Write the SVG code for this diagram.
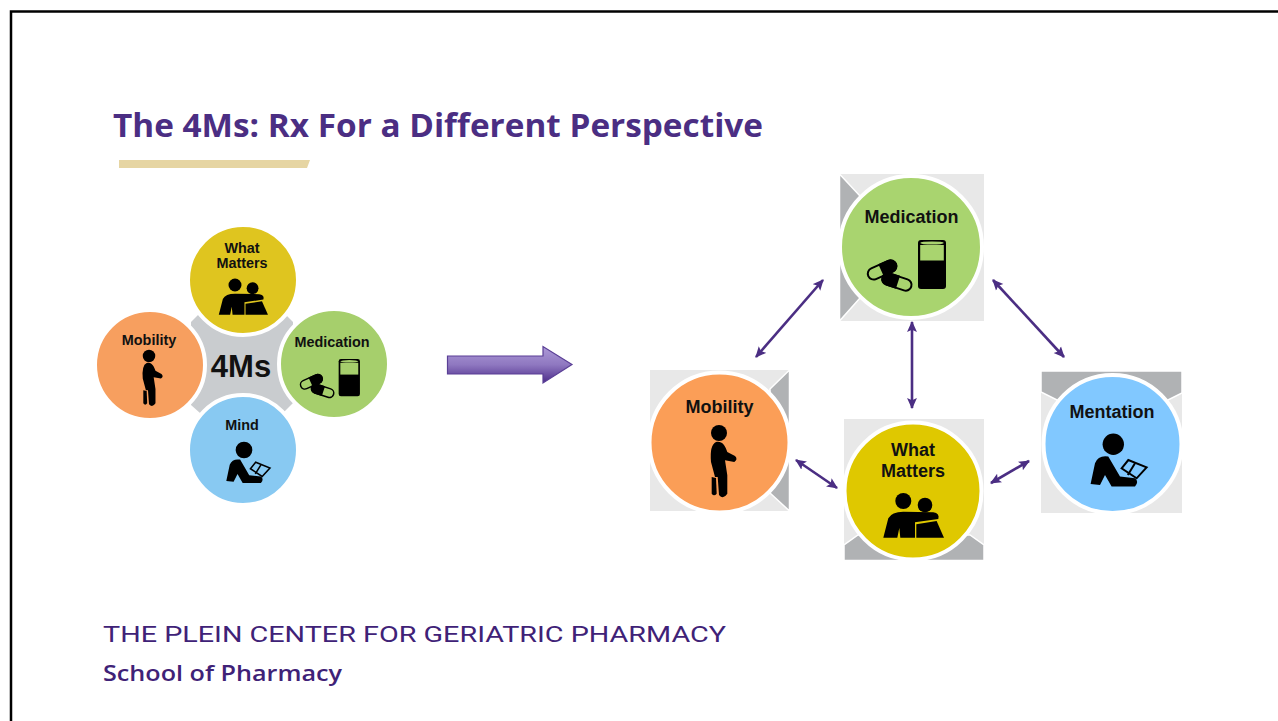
<svg xmlns="http://www.w3.org/2000/svg" width="1278" height="721" viewBox="0 0 1278 721">
<style>
.lbl{font-family:"Liberation Sans",Arial,sans-serif;font-weight:700;fill:#111;text-anchor:middle}
.big{font-size:18px}
.small{font-size:14.4px}
.sq{fill:#e8e8e8}
.dk{fill:#b0b2b4;stroke:#fff;stroke-width:1.500}
.ring{stroke:#fff;stroke-width:4}
.conn{fill:none;stroke:#4b2e83;stroke-width:2.600;marker-start:url(#ah);marker-end:url(#ah)}
</style>
<defs>
<marker id="ah" viewBox="0 0 10 10" refX="9" refY="5" markerWidth="11" markerHeight="11" markerUnits="userSpaceOnUse" orient="auto-start-reverse"><path d="M0,0.5L10,5L0,9.5L2,5Z" fill="#4b2e83"/></marker>
<linearGradient id="ag" x1="0" y1="0" x2="0" y2="1"><stop offset="0" stop-color="#ad9ad8"/><stop offset="0.5" stop-color="#8f78c0"/><stop offset="1" stop-color="#4c2c8a"/></linearGradient>
<g id="walker" fill="#000">
<circle r="8"/>
<path d="M-3,9C2.7,7.7 6,11.7 8.3,19L16,23Q19.3,26.3 15.3,29L6,27.3L8.3,42.3L8.3,60.7Q4.3,67 0,62L-1.3,44L-4,44L-8,29Q-9.5,12 -3,9Z"/>
<path d="M-7.3,44L-3,45L-2.3,60.7Q-5,64 -7.3,60.7Z"/>
</g>
<g id="people" fill="#000">
<circle r="8"/>
<circle cx="21.700" cy="4" r="7.300"/>
<path d="M-20,36.700L-15,17.300Q-11.700,10.700 0,10.700L30,11.300Q36.700,12.300 35,18L11.700,21.300L11.700,36.700L-3,36.700L-4,27L-6,36.700Z"/>
<path d="M13,23.300L33.300,20L40.700,36.700L13,36.700Z"/>
</g>
<g id="pills">
<rect x="-14" y="-25" width="28" height="49" rx="3" fill="#000"/>
<rect x="-11.800" y="-20" width="23.600" height="15.500" fill="currentColor"/>
<ellipse cy="-22" rx="11.800" ry="1.600" fill="currentColor"/>
<g transform="translate(-50,5) rotate(-24)"><rect x="-15" y="-5.800" width="30" height="11.600" rx="5.800" fill="currentColor" stroke="#000" stroke-width="2"/><path d="M-1,-6.800H9.500A6.800,6.800 0 0 1 9.500,6.800H-1Z" fill="#000"/></g>
<g transform="translate(-35,17) rotate(18)"><rect x="-15" y="-5.800" width="30" height="11.600" rx="5.800" fill="currentColor" stroke="#000" stroke-width="2"/><path d="M1,-6.800H-9.500A6.800,6.800 0 0 0 -9.500,6.800H1Z" fill="#000"/></g>
</g>
<g id="reader">
<circle r="10.700" fill="#000"/>
<path d="M-22.700,39.700L-18.300,19Q-15,10.700 -5,12.300L6.700,32.300L21.700,34Q26,37.300 21.700,42.300L-1.700,42.300L-8.300,30.700L-13.300,40.700Z" fill="#000"/>
<path d="M8.300,24L15,15.700L33.300,23L23.300,34Z" fill="none" stroke="#000" stroke-width="2"/>
<path d="M21.700,19L14.500,30.700" fill="none" stroke="#000" stroke-width="2"/>
</g>
</defs>
<rect width="1278" height="721" fill="#fff"/>
<path id="frame" d="M11,721V11.500H1278" fill="none" stroke="#000" stroke-width="2.500"/>
<g id="title">
<text x="113" y="137" font-family="'Open Sans','Noto Sans',sans-serif" font-weight="700" font-size="33" fill="#4b2e83" textLength="650" lengthAdjust="spacingAndGlyphs">The 4Ms: Rx For a Different Perspective</text>
<path d="M119,160H310L307,168H119Z" fill="#e6d5a3"/>
</g>
<g id="hub">
<path d="M198,315L287,316L293,322V403L284,412L200,413L191,405V322Z" fill="#c9cccf"/>
<text class="lbl" x="241" y="377" font-size="31">4Ms</text>
</g>
<g id="small-what-matters">
<circle cx="243" cy="280" r="55" fill="#dfc51f" class="ring"/>
<text class="lbl small" x="242" y="252.500">What</text><text class="lbl small" x="242" y="267.500">Matters</text>
<use href="#people" transform="translate(235,285) scale(.81)"/>
</g>
<g id="small-mobility">
<circle cx="150" cy="365" r="55" fill="#f79f5f" class="ring"/>
<text class="lbl small" x="149" y="345">Mobility</text>
<use href="#walker" transform="translate(149,356) scale(.78)"/>
</g>
<g id="small-medication" color="#a6cf6c">
<circle cx="334" cy="364" r="55" fill="#a6cf6c" class="ring"/>
<text class="lbl small" x="332" y="346.500">Medication</text>
<use href="#pills" transform="translate(349.300,378) scale(.76)"/>
</g>
<g id="small-mind">
<circle cx="243" cy="450" r="55" fill="#88c9f2" class="ring"/>
<text class="lbl small" x="242" y="430">Mind</text>
<use href="#reader" transform="translate(244,450) scale(.78)"/>
</g>
<g id="block-arrow">
<path d="M447.500,356H543V346.500L572,364.500L543,383V374H447.500Z" fill="url(#ag)" stroke="#5a3f96" stroke-width="1.200"/>
</g>
<g id="connectors">
<path class="conn" d="M756,357L823,280"/>
<path class="conn" d="M912,322V408"/>
<path class="conn" d="M796,460L837,488"/>
<path class="conn" d="M993,280L1064,357"/>
<path class="conn" d="M991,483L1029,461"/>
</g>
<g id="medication" color="#a9d46f">
<rect class="sq" x="840" y="174" width="144" height="147"/>
<path class="dk" d="M839.500,174L860,196V298L839.500,321Z"/>
<circle class="ring" cx="911" cy="247" r="71" fill="#a9d46f"/>
<text class="lbl big" x="911.500" y="223">Medication</text>
<use href="#pills" transform="translate(932,265)"/>
</g>
<g id="mobility">
<rect class="sq" x="650" y="370" width="139" height="141"/>
<path class="dk" d="M789.500,370L770,389V493L789.500,511Z"/>
<circle class="ring" cx="719.500" cy="442.500" r="70" fill="#fb9e57"/>
<text class="lbl big" x="719.500" y="413">Mobility</text>
<use href="#walker" transform="translate(719,433)"/>
</g>
<g id="what-matters">
<rect class="sq" x="844" y="419" width="140" height="141"/>
<path class="dk" d="M844,560.500V545L858,535H970L984,545V560.500Z"/>
<circle class="ring" cx="913" cy="491" r="68.500" fill="#dfc800"/>
<text class="lbl big" x="913" y="456">What</text><text class="lbl big" x="913" y="477">Matters</text>
<use href="#people" transform="translate(903.300,501)"/>
</g>
<g id="mentation">
<rect class="sq" x="1041" y="371" width="141" height="142"/>
<path class="dk" d="M1041,371H1182V393L1166,401H1059L1041,392Z"/>
<circle class="ring" cx="1112.500" cy="444" r="69" fill="#81c8ff"/>
<text class="lbl big" x="1112" y="418">Mentation</text>
<use href="#reader" transform="translate(1113.300,444.300)"/>
</g>
<g id="footer" fill="#3f2277">
<text x="103" y="642" font-family="Roboto,'Liberation Sans',sans-serif" font-weight="400" font-size="22" textLength="623" lengthAdjust="spacingAndGlyphs">THE PLEIN CENTER FOR GERIATRIC PHARMACY</text>
<text x="103" y="681" font-family="'Open Sans','Noto Sans',sans-serif" font-weight="600" font-size="21" textLength="239" lengthAdjust="spacingAndGlyphs">School of Pharmacy</text>
</g>
</svg>
